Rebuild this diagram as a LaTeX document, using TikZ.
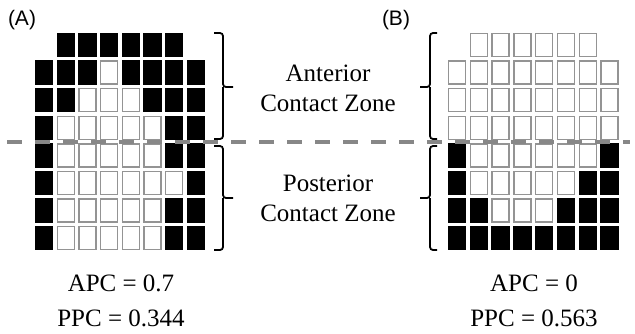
\documentclass[tikz,border=0pt]{standalone}
\usepackage{fontspec}
\setmainfont{Liberation Serif}
\newfontfamily\panelfont{Liberation Sans}
\tikzset{
  wcell/.style={draw=black!42, line width=1.3pt, fill=white, minimum width=17pt, minimum height=23pt, inner sep=0pt},
  bcell/.style={draw=black, line width=1.3pt, fill=black, minimum width=17pt, minimum height=23pt, inner sep=0pt},
  zone/.style={line width=1.8pt, rounded corners=3pt},
  midline/.style={draw=black!47, line width=3.5pt, dash pattern=on 15pt off 13pt},
  txt/.style={font=\fontsize{25}{30}\selectfont, align=center, inner sep=0pt},
  panel/.style={font=\panelfont\fontsize{21}{24}\selectfont, inner sep=0pt}
}
\begin{document}
\begin{tikzpicture}[x=1pt, y=-1pt]
         \useasboundingbox (0, 0) rectangle (635, 333);
         \node [panel] (PA) at (22, 20) {(A)};
         \node [panel] (PB) at (396, 20) {(B)};
         \foreach \row [count=\r from 0] in {{0,2,2,2,2,2,2,0},{2,2,2,1,2,2,2,2},{2,2,1,1,1,2,2,2},{2,1,1,1,1,1,2,2},{2,1,1,1,1,1,2,2},{2,1,1,1,1,1,1,2},{2,1,1,1,1,1,2,2},{2,1,1,1,1,1,2,2}}
           \foreach \v [count=\c from 0] in \row {
             \ifcase\v \or \node [wcell] (A\r\c) at ({44+\c*21.7}, {45+\r*27.6}) {};
             \or \node [bcell] (A\r\c) at ({44+\c*21.7}, {45+\r*27.6}) {}; \fi
           };
         \foreach \row [count=\r from 0] in {{0,1,1,1,1,1,1,0},{1,1,1,1,1,1,1,1},{1,1,1,1,1,1,1,1},{1,1,1,1,1,1,1,1},{2,1,1,1,1,1,1,2},{2,1,1,1,1,1,2,2},{2,2,1,1,1,2,2,2},{2,2,2,2,2,2,2,2}}
           \foreach \v [count=\c from 0] in \row {
             \ifcase\v \or \node [wcell] (B\r\c) at ({457+\c*21.8}, {45+\r*27.6}) {};
             \or \node [bcell] (B\r\c) at ({457+\c*21.8}, {45+\r*27.6}) {}; \fi
           };
         \coordinate (DL) at (7, 142);
         \coordinate (DR) at (630, 142);
         \draw [midline] (DL) -- (DR);
         \coordinate (AT1) at (214, 33);
         \coordinate (AS1) at (223, 87);
         \coordinate (AM1) at (233, 87);
         \coordinate (AB1) at (214, 139);
         \coordinate (AT2) at (214, 146);
         \coordinate (AS2) at (223, 198);
         \coordinate (AM2) at (233, 198);
         \coordinate (AB2) at (214, 250);
         \coordinate (BT1) at (437, 33);
         \coordinate (BS1) at (430, 87);
         \coordinate (BM1) at (420, 87);
         \coordinate (BB1) at (437, 139);
         \coordinate (BT2) at (437, 146);
         \coordinate (BS2) at (430, 198);
         \coordinate (BM2) at (420, 198);
         \coordinate (BB2) at (437, 250);
         \draw [zone] (AT1) -| (AS1) -- (AM1);
         \draw [zone] (AS1) |- (AB1);
         \draw [zone] (AT2) -| (AS2) -- (AM2);
         \draw [zone] (AS2) |- (AB2);
         \draw [zone] (BT1) -| (BS1) -- (BM1);
         \draw [zone] (BS1) |- (BB1);
         \draw [zone] (BT2) -| (BS2) -- (BM2);
         \draw [zone] (BS2) |- (BB2);
         \node [txt] (ANT) at (328, 88) {Anterior\\Contact Zone};
         \node [txt] (POST) at (328, 198) {Posterior\\Contact Zone};
         \node [txt] (APCA) at (121, 283) {APC = 0.7};
         \node [txt] (PPCA) at (121, 318) {PPC = 0.344};
         \node [txt] (APCB) at (534, 283) {APC = 0};
         \node [txt] (PPCB) at (534, 318) {PPC = 0.563};
 \end{tikzpicture}
\end{document}
